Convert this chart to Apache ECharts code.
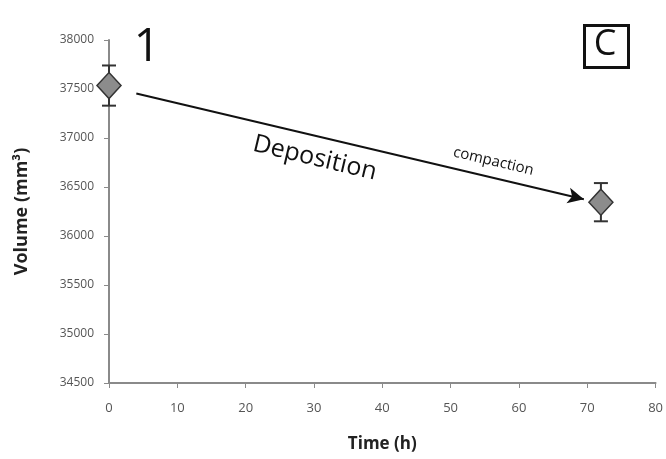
<!DOCTYPE html>
<html><head><meta charset="utf-8">
<script src="https://cdn.jsdelivr.net/npm/echarts@6/dist/echarts.min.js"></script>
<style>html,body{margin:0;padding:0;background:#fff}#c{width:666px;height:459px}</style>
</head><body><div id="c"></div>
<script>
const times = [0, 72];
const volumes = [37535, 36345];
const errors = [205, 195];
const xTicks = [0, 10, 20, 30, 40, 50, 60, 70, 80];
const yTicks = [34500, 35000, 35500, 36000, 36500, 37000, 37500, 38000];
const arrowStart = [4, 37455];
const arrowEnd = [69.5, 36375];

const chart = echarts.init(document.getElementById('c'));
const FONT = '"Open Sans", Lato, sans-serif';
const option = {
  animation: false,
  grid: {left: 109, right: 9, top: 40, bottom: 76},
  xAxis: {
    type: 'value', min: xTicks[0], max: xTicks[xTicks.length-1], interval: 10,
    name: 'Time (h)', nameLocation: 'middle', nameGap: 53,
    nameTextStyle: {fontFamily: FONT, fontWeight: 'bold', fontSize: 17, color: '#222'},
    axisLine: {lineStyle: {color: '#8a8a8a', width: 2}},
    axisTick: {show: true, length: 5, lineStyle: {color: '#8a8a8a'}},
    axisLabel: {fontFamily: FONT, fontSize: 13, color: '#555', margin: 19, formatter: v => String(v)},
    splitLine: {show: false}
  },
  yAxis: {
    type: 'value', min: yTicks[0], max: yTicks[yTicks.length-1], interval: 500,
    name: 'Volume (mm³)', nameLocation: 'middle', nameGap: 78,
    nameTextStyle: {fontFamily: FONT, fontWeight: 'bold', fontSize: 18, color: '#222'},
    axisLine: {show: true, lineStyle: {color: '#8a8a8a', width: 2}},
    axisTick: {show: true, length: 5, lineStyle: {color: '#8a8a8a'}},
    axisLabel: {fontFamily: FONT, fontSize: 12, color: '#555', margin: 15, formatter: v => String(v)},
    splitLine: {show: false}
  },
  series: [
    {
      type: 'custom',
      data: times.map((t, i) => [t, volumes[i] - errors[i], volumes[i] + errors[i]]),
      renderItem: function (params, api) {
        const lo = api.coord([api.value(0), api.value(1)]);
        const hi = api.coord([api.value(0), api.value(2)]);
        const w = 7;
        const st = {stroke: '#333', lineWidth: 2};
        return {type: 'group', children: [
          {type: 'line', shape: {x1: lo[0], y1: lo[1], x2: hi[0], y2: hi[1]}, style: st},
          {type: 'line', shape: {x1: lo[0]-w, y1: lo[1], x2: lo[0]+w, y2: lo[1]}, style: st},
          {type: 'line', shape: {x1: hi[0]-w, y1: hi[1], x2: hi[0]+w, y2: hi[1]}, style: st}
        ]};
      },
      z: 2
    },
    {
      type: 'scatter',
      data: times.map((t, i) => [t, volumes[i]]),
      symbol: 'diamond', symbolSize: [24, 26],
      itemStyle: {color: '#8c8c8c', borderColor: '#333', borderWidth: 1.5, opacity: 1},
      z: 3,
      markLine: {
        silent: true, symbol: ['none', 'arrow'], symbolSize: [12, 16],
        lineStyle: {color: '#111', width: 2, type: 'solid'},
        label: {show: false},
        data: [[{coord: arrowStart}, {coord: arrowEnd}]]
      }
    }
  ]
};
chart.setOption(option);

function addTexts() {
  const p0 = chart.convertToPixel('grid', arrowStart);
  const p1 = chart.convertToPixel('grid', arrowEnd);
  const ang = Math.atan2(p1[1] - p0[1], p1[0] - p0[0]);
  const lerp = (t) => [p0[0] + (p1[0]-p0[0])*t, p0[1] + (p1[1]-p0[1])*t];
  const a = lerp(0.41), b = lerp(0.79);
  const nx = Math.sin(ang), ny = -Math.cos(ang);
  const pt1 = chart.convertToPixel('grid', [times[0], volumes[0]]);
  chart.setOption({graphic: [
    {type: 'text', x: a[0] - nx*22, y: a[1] - ny*22, rotation: -ang,
     style: {text: 'Deposition', font: '25px ' + FONT, fill: '#111', align: 'center', verticalAlign: 'middle'}},
    {type: 'text', x: b[0] + nx*16, y: b[1] + ny*16, rotation: -ang,
     style: {text: 'compaction', font: '15px ' + FONT, fill: '#111', align: 'center', verticalAlign: 'middle'}},
    {type: 'text', x: pt1[0] + 38, y: pt1[1] - 38, style: {text: '1', font: '46px ' + FONT, fill: '#111', align: 'center', verticalAlign: 'middle'}},
    {type: 'rect', left: 583, top: 24, shape: {width: 44, height: 42}, style: {fill: '#fff', stroke: '#111', lineWidth: 3}},
    {type: 'text', x: 605, y: 45, style: {text: 'C', font: '36px ' + FONT, fill: '#111', align: 'center', verticalAlign: 'middle'}}
  ]});
}
addTexts();
</script>
</body></html>
